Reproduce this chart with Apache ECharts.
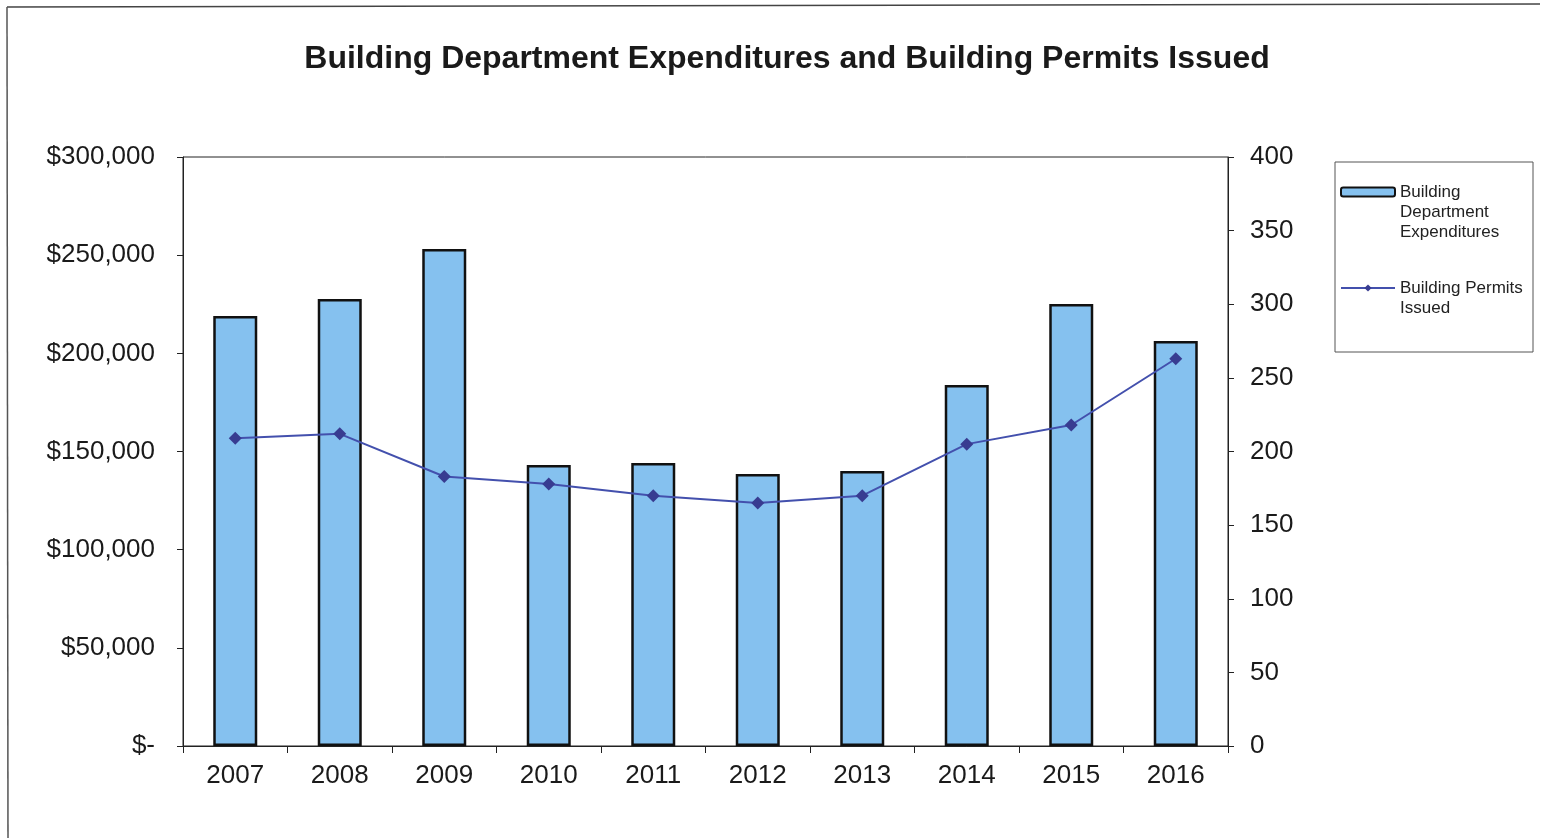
<!DOCTYPE html>
<html>
<head>
<meta charset="utf-8">
<title>Building Department Expenditures and Building Permits Issued</title>
<script src="https://cdn.jsdelivr.net/npm/echarts@6/dist/echarts.min.js"></script>
<style>
  html, body { margin: 0; padding: 0; background: #fff; }
  #main { width: 1543px; height: 838px; }
</style>
</head>
<body>
<div id="main"></div>
<script>
var years = ['2007', '2008', '2009', '2010', '2011', '2012', '2013', '2014', '2015', '2016'];
var expenditures = [219000, 227700, 253100, 143100, 144100, 138500, 140100, 183900, 225100, 206300];
var permits = [209, 212, 183, 178, 170, 165, 170, 205, 218, 263];

var myChart = echarts.init(document.getElementById('main'));

var font = 'Arial, "Liberation Sans", sans-serif';

var option = {
    backgroundColor: '#fff',
    animation: false,
    title: {
        text: 'Building Department Expenditures and Building Permits Issued',
        left: 782,
        textAlign: 'center',
        top: 38,
        textStyle: { fontFamily: font, fontSize: 32, fontWeight: 'bold', color: '#1a1a1a' }
    },
    grid: {
        left: 183, right: 315, top: 157, bottom: 92,
        show: true, borderColor: '#222', borderWidth: 1
    },
    legend: {
        orient: 'vertical',
        left: 1340,
        top: 142,
        padding: 0,
        itemWidth: 54,
        itemHeight: 9,
        itemGap: 16,
        textStyle: { fontFamily: font, fontSize: 17, color: '#222', lineHeight: 20 },
        formatter: function (name) {
            if (name === 'Building Department Expenditures') {
                return ' \n \nBuilding\nDepartment\nExpenditures';
            }
            return ' \nBuilding Permits\nIssued';
        },
        data: ['Building Department Expenditures', 'Building Permits Issued']
    },
    graphic: [
        { type: 'rect', shape: { x: 1335, y: 162, width: 198, height: 190 },
          style: { fill: 'none', stroke: '#555', lineWidth: 1 }, z: -1 },
        { type: 'line', shape: { x1: 7, y1: 7, x2: 1540, y2: 4 }, style: { stroke: '#444', lineWidth: 1.5 } },
        { type: 'line', shape: { x1: 7, y1: 7, x2: 8, y2: 838 }, style: { stroke: '#555', lineWidth: 1.5 } }
    ],
    xAxis: {
        type: 'category',
        data: years,
        axisLine: { lineStyle: { color: '#222', width: 1 } },
        axisTick: { show: true, length: 7, lineStyle: { color: '#222' } },
        axisLabel: { fontFamily: font, fontSize: 26, color: '#1a1a1a', margin: 17 }
    },
    yAxis: [
        {
            type: 'value',
            min: 0, max: 300000, interval: 50000,
            splitLine: { show: false },
            axisLine: { show: true, lineStyle: { color: '#222', width: 1 } },
            axisTick: { show: true, length: 6, lineStyle: { color: '#222' } },
            axisLabel: {
                fontFamily: font, fontSize: 26, color: '#1a1a1a', margin: 28,
                formatter: function (v) {
                    return v === 0 ? '$-' : '$' + v.toLocaleString('en-US');
                }
            }
        },
        {
            type: 'value',
            min: 0, max: 400, interval: 50,
            position: 'right',
            splitLine: { show: false },
            axisLine: { show: true, lineStyle: { color: '#222', width: 1 } },
            axisTick: { show: true, length: 6, lineStyle: { color: '#222' } },
            axisLabel: { fontFamily: font, fontSize: 26, color: '#1a1a1a', margin: 22 }
        }
    ],
    series: [
        {
            name: 'Building Department Expenditures',
            type: 'bar',
            data: expenditures,
            barWidth: 44,
            itemStyle: { color: '#85c1ef', borderColor: '#111', borderWidth: 2.5 }
        },
        {
            name: 'Building Permits Issued',
            type: 'line',
            yAxisIndex: 1,
            data: permits,
            symbol: 'diamond',
            symbolSize: 13,
            lineStyle: { color: '#4350ad', width: 2 },
            itemStyle: { color: '#383c91' }
        }
    ]
};

myChart.setOption(option);
</script>
</body>
</html>
